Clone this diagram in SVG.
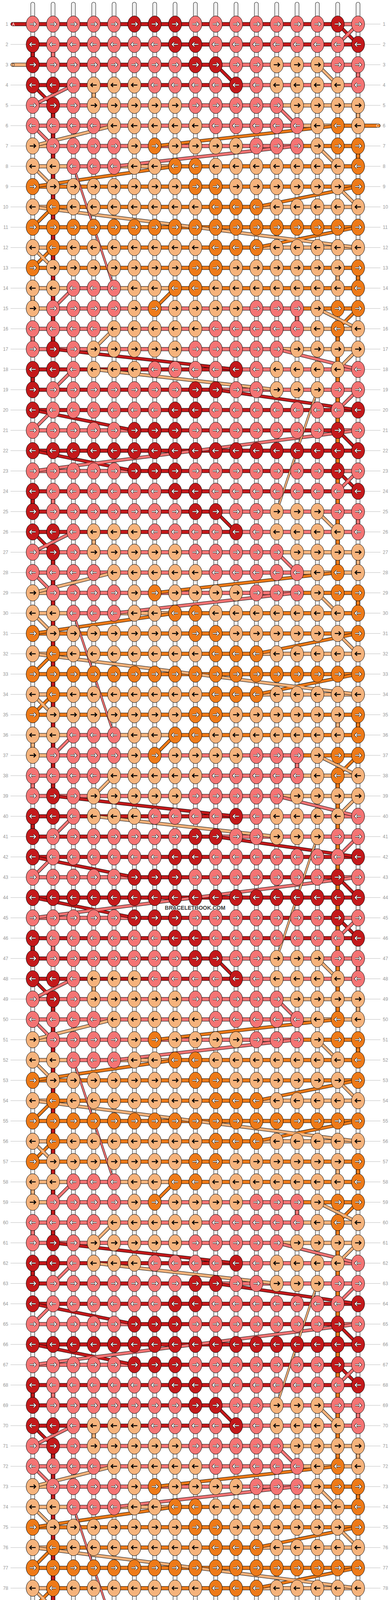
<svg xmlns="http://www.w3.org/2000/svg" width="1000" height="4648" viewBox="0 0 1000 4648">
<style>
text{font-family:"Liberation Sans",Arial,sans-serif}
.n{font-size:12px;fill:#999}
.lb{font-size:10px}
.wm{font-size:14px;font-weight:bold;fill:#3a3a3a;stroke:#fff;stroke-width:2px;paint-order:stroke}
</style>
<defs>
<pattern id="gl" width="60" height="52" patternUnits="userSpaceOnUse" y="61.2"><rect width="60" height="1" fill="#bbb"/></pattern>
<path id="pr" d="M-7.5 0H6.5M2.5-5L7.5 0L2.5 5" fill="none"/>
<path id="pl" d="M7.5 0H-6.5M-2.5-5L-7.5 0L-2.5 5" fill="none"/>
<g id="wr"><use href="#pr" stroke="#000" stroke-width="4"/><use href="#pr" stroke="#fff" stroke-width="2.2"/></g>
<g id="wl"><use href="#pl" stroke="#000" stroke-width="4"/><use href="#pl" stroke="#fff" stroke-width="2.2"/></g>
<g id="AR"><ellipse rx="16.8" ry="21" fill="#c4191b" stroke="#000"/><use href="#wr"/></g>
<g id="AL"><ellipse rx="16.8" ry="21" fill="#c4191b" stroke="#000"/><use href="#wl"/></g>
<g id="BR"><ellipse rx="16.8" ry="21" fill="#f47474" stroke="#000"/><use href="#wr"/></g>
<g id="BL"><ellipse rx="16.8" ry="21" fill="#f47474" stroke="#000"/><use href="#wl"/></g>
<g id="CR"><ellipse rx="16.8" ry="21" fill="#ee7a18" stroke="#000"/><use href="#wr"/></g>
<g id="CL"><ellipse rx="16.8" ry="21" fill="#ee7a18" stroke="#000"/><use href="#wl"/></g>
<g id="DR"><ellipse rx="16.8" ry="21" fill="#f5b37c" stroke="#000"/><use href="#pr" stroke="#000" stroke-width="2.6"/></g>
<g id="DL"><ellipse rx="16.8" ry="21" fill="#f5b37c" stroke="#000"/><use href="#pl" stroke="#000" stroke-width="2.6"/></g>

<g id="r1"><use href="#BR"/><use href="#BR" x="52"/><use href="#BR" x="104"/><use href="#BR" x="156"/><use href="#BR" x="208"/><use href="#AR" x="260"/><use href="#AR" x="312"/><use href="#AR" x="364"/><use href="#BR" x="416"/><use href="#BR" x="468"/><use href="#BR" x="520"/><use href="#BR" x="572"/><use href="#BR" x="624"/><use href="#BR" x="676"/><use href="#BR" x="728"/><use href="#AR" x="780"/><use href="#BR" x="832"/></g>
<g id="r2"><use href="#AL"/><use href="#BL" x="52"/><use href="#BL" x="104"/><use href="#BL" x="156"/><use href="#BL" x="208"/><use href="#BL" x="260"/><use href="#BL" x="312"/><use href="#AL" x="364"/><use href="#AL" x="416"/><use href="#BL" x="468"/><use href="#BL" x="520"/><use href="#BL" x="572"/><use href="#BL" x="624"/><use href="#BL" x="676"/><use href="#BL" x="728"/><use href="#BL" x="780"/><use href="#AL" x="832"/></g>
<g id="r3"><use href="#AR"/><use href="#BR" x="52"/><use href="#BR" x="104"/><use href="#BR" x="156"/><use href="#BR" x="208"/><use href="#BR" x="260"/><use href="#BR" x="312"/><use href="#BR" x="364"/><use href="#AR" x="416"/><use href="#AR" x="468"/><use href="#BR" x="520"/><use href="#BR" x="572"/><use href="#DR" x="624"/><use href="#DR" x="676"/><use href="#DR" x="728"/><use href="#BR" x="780"/><use href="#BR" x="832"/></g>
<g id="r4"><use href="#AL"/><use href="#AL" x="52"/><use href="#BL" x="104"/><use href="#DL" x="156"/><use href="#DL" x="208"/><use href="#DL" x="260"/><use href="#BL" x="312"/><use href="#BL" x="364"/><use href="#BL" x="416"/><use href="#BL" x="468"/><use href="#AL" x="520"/><use href="#BL" x="572"/><use href="#DL" x="624"/><use href="#DL" x="676"/><use href="#DL" x="728"/><use href="#DL" x="780"/><use href="#BL" x="832"/></g>
<g id="r5"><use href="#BR"/><use href="#AR" x="52"/><use href="#BR" x="104"/><use href="#DR" x="156"/><use href="#DR" x="208"/><use href="#DR" x="260"/><use href="#DR" x="312"/><use href="#DR" x="364"/><use href="#BR" x="416"/><use href="#BR" x="468"/><use href="#BR" x="520"/><use href="#BR" x="572"/><use href="#BR" x="624"/><use href="#DR" x="676"/><use href="#DR" x="728"/><use href="#DR" x="780"/><use href="#DR" x="832"/></g>
<g id="r6"><use href="#BL"/><use href="#BL" x="52"/><use href="#BL" x="104"/><use href="#BL" x="156"/><use href="#DL" x="208"/><use href="#DL" x="260"/><use href="#DL" x="312"/><use href="#DL" x="364"/><use href="#DL" x="416"/><use href="#BL" x="468"/><use href="#BL" x="520"/><use href="#BL" x="572"/><use href="#BL" x="624"/><use href="#BL" x="676"/><use href="#DL" x="728"/><use href="#CL" x="780"/><use href="#DL" x="832"/></g>
<g id="r7"><use href="#DR"/><use href="#BR" x="52"/><use href="#BR" x="104"/><use href="#BR" x="156"/><use href="#BR" x="208"/><use href="#DR" x="260"/><use href="#CR" x="312"/><use href="#DR" x="364"/><use href="#DR" x="416"/><use href="#DR" x="468"/><use href="#DR" x="520"/><use href="#BR" x="572"/><use href="#BR" x="624"/><use href="#BR" x="676"/><use href="#DR" x="728"/><use href="#CR" x="780"/><use href="#CR" x="832"/></g>
<g id="r8"><use href="#DL"/><use href="#DL" x="52"/><use href="#BL" x="104"/><use href="#BL" x="156"/><use href="#BL" x="208"/><use href="#DL" x="260"/><use href="#DL" x="312"/><use href="#CL" x="364"/><use href="#CL" x="416"/><use href="#DL" x="468"/><use href="#DL" x="520"/><use href="#DL" x="572"/><use href="#DL" x="624"/><use href="#DL" x="676"/><use href="#DL" x="728"/><use href="#DL" x="780"/><use href="#CL" x="832"/></g>
<g id="r9"><use href="#CR"/><use href="#DR" x="52"/><use href="#DR" x="104"/><use href="#DR" x="156"/><use href="#DR" x="208"/><use href="#DR" x="260"/><use href="#DR" x="312"/><use href="#DR" x="364"/><use href="#CR" x="416"/><use href="#CR" x="468"/><use href="#DR" x="520"/><use href="#DR" x="572"/><use href="#DR" x="624"/><use href="#DR" x="676"/><use href="#DR" x="728"/><use href="#DR" x="780"/><use href="#CR" x="832"/></g>
<g id="r10"><use href="#DL"/><use href="#CL" x="52"/><use href="#DL" x="104"/><use href="#DL" x="156"/><use href="#DL" x="208"/><use href="#DL" x="260"/><use href="#DL" x="312"/><use href="#DL" x="364"/><use href="#DL" x="416"/><use href="#CL" x="468"/><use href="#CL" x="520"/><use href="#CL" x="572"/><use href="#DL" x="624"/><use href="#DL" x="676"/><use href="#DL" x="728"/><use href="#DL" x="780"/><use href="#DL" x="832"/></g>
<g id="r11"><use href="#CR"/><use href="#CR" x="52"/><use href="#CR" x="104"/><use href="#CR" x="156"/><use href="#CR" x="208"/><use href="#CR" x="260"/><use href="#CR" x="312"/><use href="#CR" x="364"/><use href="#CR" x="416"/><use href="#CR" x="468"/><use href="#CR" x="520"/><use href="#CR" x="572"/><use href="#CR" x="624"/><use href="#CR" x="676"/><use href="#CR" x="728"/><use href="#CR" x="780"/><use href="#CR" x="832"/></g>
<g id="r22"><use href="#AL"/><use href="#AL" x="52"/><use href="#AL" x="104"/><use href="#AL" x="156"/><use href="#AL" x="208"/><use href="#AL" x="260"/><use href="#AL" x="312"/><use href="#AL" x="364"/><use href="#AL" x="416"/><use href="#AL" x="468"/><use href="#AL" x="520"/><use href="#AL" x="572"/><use href="#AL" x="624"/><use href="#AL" x="676"/><use href="#AL" x="728"/><use href="#AL" x="780"/><use href="#AL" x="832"/></g>
<g id="KB"><use href="#r1"/><use href="#r2" y="52"/><use href="#r3" y="104"/><use href="#r4" y="156"/><use href="#r5" y="208"/><use href="#r6" y="260"/><use href="#r7" y="312"/><use href="#r8" y="364"/><use href="#r9" y="416"/><use href="#r10" y="468"/><use href="#r11" y="520"/><use href="#r10" y="572"/><use href="#r9" y="624"/><use href="#r8" y="676"/><use href="#r7" y="728"/><use href="#r6" y="780"/><use href="#r5" y="832"/><use href="#r4" y="884"/><use href="#r3" y="936"/><use href="#r2" y="988"/><use href="#r1" y="1040"/><use href="#r22" y="1092"/></g>

<path id="wp" fill="none" d="M0-51V4576M52-51V4576M104-51V4576M156-51V4576M208-51V4576M260-51V4576M312-51V4576M364-51V4576M416-51V4576M468-51V4576M520-51V4576M572-51V4576M624-51V4576M676-51V4576M728-51V4576M780-51V4576M832-51V4576"/>

<path id="gA" d="M0 52H832M0 104H468M0 156H520M0 884H520M0 936H468M0 988H832M260 1040H780M0 1092H832M0 52V104M52 208V832M0 884V936"/>
<path id="gB" d="M780 0H832M468 104H832M520 156H832M0 208H624M0 260H676M52 312H676M104 364H208M104 676H208M52 728H676M0 780H676M0 832H624M520 884H832M468 936H832M0 1040H260M780 1040H832M52 52V104M832 104V156M676 728V780M0 780V832"/>
<path id="gC" d="M676 312H832M364 364H832M0 416H832M52 468H572M0 520H832M52 572H572M0 624H832M364 676H832M676 728H832M832 312V364M832 624V676"/>
<path id="gD" d="M624 208H832M676 260H780M0 312H52M0 364H104M208 364H364M0 468H52M572 468H832M0 572H52M572 572H832M0 676H104M208 676H364M0 728H52M780 780H832M624 832H832M156 156V208M832 208V260M780 624V676M0 676V728"/>

<path id="dA" d="M780 0L832 52M468 104L520 156M0 156L52 208M52 832L520 884M468 936L832 988M0 988L260 1040M780 1040L832 1092"/>
<path id="dB" d="M832 0L780 52M104 156L0 208M624 208L676 260M0 260L52 312M676 312L208 364M104 676L52 728M624 832L832 884M104 884L52 936M832 936L780 988M52 988L0 1040"/>
<path id="dC" d="M780 260L312 312M364 364L0 416M832 416L572 468M52 468L0 520M832 520L572 572M52 572L0 624M364 676L312 728M832 728L780 780"/>
<path id="dD" d="M728 104L780 156M208 260L0 312M728 312L780 364M0 364L52 416M780 416L832 468M0 468L832 572M0 572L52 624M728 728L832 780M208 780L156 832M832 832L780 884M156 884L624 936"/>

<g id="BA"><use href="#gA"/><use href="#gA" y="1144"/><use href="#gA" y="2288"/><use href="#gA" y="3432"/><path d="M0 0H780M260 1144H780M260 2288H780M260 3432H780"/><path d="M-51.7 0H0M-51.7 4524H0" stroke-linecap="round"/></g>
<g id="BB"><use href="#gB"/><use href="#gB" y="1144"/><use href="#gB" y="2288"/><use href="#gB" y="3432"/><path d="M0 1144H260M0 2288H260M0 3432H260"/><path d="M832 4472H884.3" stroke-linecap="round"/></g>
<g id="BC"><use href="#gC"/><use href="#gC" y="1144"/><use href="#gC" y="2288"/><use href="#gC" y="3432"/><path d="M780 780V1404M780 1924V2548M780 3068V3692M780 260H832M676 4212H780"/><path d="M832 260H884.3M-51.7 4212H0" stroke-linecap="round"/></g>
<g id="BD"><use href="#gD"/><use href="#gD" y="1144"/><use href="#gD" y="2288"/><use href="#gD" y="3432"/><path d="M780 1404H832M780 2548H832M780 3692H832M676 780H780M676 1924H780M676 3068H780"/><path d="M-51.7 104H0M832 4368H884.3" stroke-linecap="round"/></g>

<g id="DA"><use href="#dA"/><use href="#dA" y="1144"/><use href="#dA" y="2288"/><use href="#dA" y="3432"/><path d="M0 1092L260 1144M0 2236L260 2288M0 3380L260 3432"/></g>
<g id="DB"><use href="#dB"/><use href="#dB" y="1144"/><use href="#dB" y="2288"/><use href="#dB" y="3432"/><path d="M832 1040L0 1144M832 2184L0 2288M832 3328L0 3432"/></g>
<g id="DC"><use href="#dC"/><use href="#dC" y="1144"/><use href="#dC" y="2288"/><use href="#dC" y="3432"/></g>
<g id="DD"><use href="#dD"/><use href="#dD" y="1144"/><use href="#dD" y="2288"/><use href="#dD" y="3432"/></g>
<path id="tB" d="M104 364L208 676M104 1508L208 1820M104 2652L208 2964M104 3796L208 4108"/>
<path id="tD" d="M728 936L624 1248M728 2080L624 2392M728 3224L624 3536"/>

<g id="nums"><text y="66">1</text><text y="118">2</text><text y="170">3</text><text y="222">4</text><text y="274">5</text><text y="326">6</text><text y="378">7</text><text y="430">8</text><text y="482">9</text><text y="534">10</text><text y="586">11</text><text y="638">12</text><text y="690">13</text><text y="742">14</text><text y="794">15</text><text y="846">16</text><text y="898">17</text><text y="950">18</text><text y="1002">19</text><text y="1054">20</text><text y="1106">21</text><text y="1158">22</text><text y="1210">23</text><text y="1262">24</text><text y="1314">25</text><text y="1366">26</text><text y="1418">27</text><text y="1470">28</text><text y="1522">29</text><text y="1574">30</text><text y="1626">31</text><text y="1678">32</text><text y="1730">33</text><text y="1782">34</text><text y="1834">35</text><text y="1886">36</text><text y="1938">37</text><text y="1990">38</text><text y="2042">39</text><text y="2094">40</text><text y="2146">41</text><text y="2198">42</text><text y="2250">43</text><text y="2302">44</text><text y="2354">45</text><text y="2406">46</text><text y="2458">47</text><text y="2510">48</text><text y="2562">49</text><text y="2614">50</text><text y="2666">51</text><text y="2718">52</text><text y="2770">53</text><text y="2822">54</text><text y="2874">55</text><text y="2926">56</text><text y="2978">57</text><text y="3030">58</text><text y="3082">59</text><text y="3134">60</text><text y="3186">61</text><text y="3238">62</text><text y="3290">63</text><text y="3342">64</text><text y="3394">65</text><text y="3446">66</text><text y="3498">67</text><text y="3550">68</text><text y="3602">69</text><text y="3654">70</text><text y="3706">71</text><text y="3758">72</text><text y="3810">73</text><text y="3862">74</text><text y="3914">75</text><text y="3966">76</text><text y="4018">77</text><text y="4070">78</text><text y="4122">79</text><text y="4174">80</text><text y="4226">81</text><text y="4278">82</text><text y="4330">83</text><text y="4382">84</text><text y="4434">85</text><text y="4486">86</text><text y="4538">87</text><text y="4590">88</text></g>
</defs>

<rect width="1000" height="4648" fill="#fff"/>
<g id="row-lines"><rect x="27" y="40" width="45" height="4560" fill="url(#gl)"/><rect x="925" y="40" width="48" height="4560" fill="url(#gl)"/></g>
<g id="row-numbers"><use href="#nums" x="21" class="n" text-anchor="end"/><use href="#nums" x="979" class="n" text-anchor="start"/></g>

<g transform="translate(83.7 61.7)">
<g id="warp">
<use href="#wp" stroke="#000" stroke-width="11" stroke-linecap="round"/>
<use href="#wp" stroke="#fff" stroke-width="9" stroke-linecap="round"/>
<use href="#wp" stroke="#cfcfcf" stroke-width="4.5" stroke-linecap="round"/>
<use href="#wp" stroke="#fff" stroke-width="2.5" stroke-linecap="round"/>
</g>
<g id="connectors" fill="none">
<g stroke="#000" stroke-width="10"><use href="#BA"/><use href="#BB"/><use href="#BC"/><use href="#BD"/></g>
<g stroke-width="8"><use href="#BA" stroke="#c4191b"/><use href="#BB" stroke="#f47474"/><use href="#BC" stroke="#ee7a18"/><use href="#BD" stroke="#f5b37c"/></g>
<g stroke="#000" stroke-width="8.5"><use href="#DA"/><use href="#DB"/><use href="#DC"/><use href="#DD"/></g>
<g stroke-width="6.5"><use href="#DA" stroke="#c4191b"/><use href="#DB" stroke="#f47474"/><use href="#DC" stroke="#ee7a18"/><use href="#DD" stroke="#f5b37c"/></g>
<g stroke="#000" stroke-width="5.6"><use href="#tB"/><use href="#tD"/></g>
<g stroke-width="3.8"><use href="#tB" stroke="#f47474"/><use href="#tD" stroke="#f5b37c"/></g>
</g>
<g id="knots">
<g id="block-1"><use href="#KB"/></g>
<g id="block-2"><use href="#KB" y="1144"/></g>
<g id="block-3"><use href="#KB" y="2288"/></g>
<g id="block-4"><use href="#KB" y="3432"/></g>
</g>
</g>

<g id="string-labels" class="lb">
<text x="31" y="65.5" fill="#fff">A</text>
<text x="30.5" y="169.5" fill="#333">D</text>
<text x="969.5" y="325.5" fill="#fff" text-anchor="end">C</text>
<text x="31" y="4277.5" fill="#fff">C</text>
<text x="969.5" y="4433.5" fill="#333" text-anchor="end">D</text>
<text x="969.5" y="4537.5" fill="#fff" text-anchor="end">B</text>
<text x="31" y="4589.5" fill="#fff">A</text>
</g>
<text class="wm" x="499" y="2329" text-anchor="middle">BRACELETBOOK.COM</text>
</svg>
